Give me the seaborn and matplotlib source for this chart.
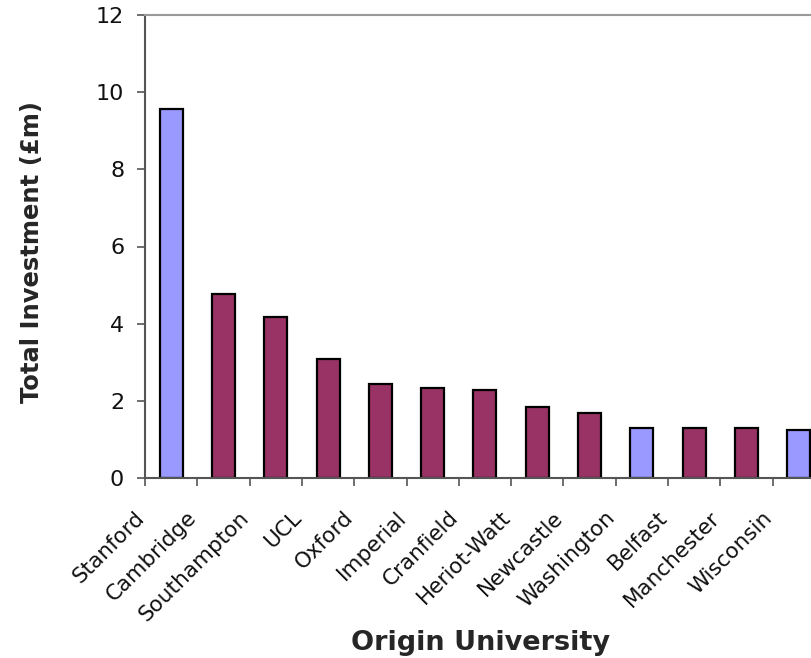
import matplotlib
matplotlib.use("Agg")
import matplotlib.pyplot as plt
import matplotlib.transforms as mtransforms
import seaborn as sns
import pandas as pd
from matplotlib.ticker import FixedLocator

universities = ["Stanford", "Cambridge", "Southampton", "UCL", "Oxford", "Imperial",
                "Cranfield", "Heriot-Watt", "Newcastle", "Washington", "Belfast",
                "Manchester", "Wisconsin"]
investment = [9.57, 4.78, 4.18, 3.09, 2.44, 2.33, 2.28, 1.84, 1.68, 1.29, 1.29, 1.29, 1.24]
region = ["US", "UK", "UK", "UK", "UK", "UK", "UK", "UK", "UK", "US", "UK", "UK", "US"]
region_colors = {"US": "#9999FF", "UK": "#993366"}
y_ticks = [0, 2, 4, 6, 8, 10, 12]

sns.set_style("white")
plt.rcParams["font.family"] = ["DejaVu Sans"]

df = pd.DataFrame({"University": universities, "Investment": investment, "Region": region})

fig = plt.figure(figsize=(8.11, 6.58), dpi=100)
n = len(universities)
left = 145 / 811
bottom = 1 - 478 / 658
top = 1 - 15 / 658
width = n * 52.3 / 811
ax = fig.add_axes([left, bottom, width, top - bottom])

sns.barplot(data=df, x="University", y="Investment", hue="Region", palette=region_colors,
            dodge=False, legend=False, width=0.44, saturation=1, edgecolor="black",
            linewidth=1.6, ax=ax)

ax.set_xlim(-0.5, n - 0.5)
ax.set_ylim(0, 12)
ax.set_yticks(y_ticks)
ax.set_yticklabels([str(t) for t in y_ticks], fontsize=16, color="#111111")
ax.tick_params(axis="y", direction="out", length=6, width=1.2, color="#555555", pad=9, left=True)

ax.set_xticks(range(n))
ax.set_xticklabels(universities, rotation=45, ha="right", rotation_mode="anchor",
                   fontsize=15.5, color="#111111")
ax.tick_params(axis="x", which="major", length=0, pad=14)
shift = mtransforms.ScaledTranslation(-37 / 100, -10 / 100, fig.dpi_scale_trans)
for lab in ax.get_xticklabels():
    lab.set_transform(lab.get_transform() + shift)
ax.xaxis.set_minor_locator(FixedLocator([i - 0.5 for i in range(n + 1)]))
ax.tick_params(axis="x", which="minor", direction="out", length=6, width=1.2,
               color="#555555", bottom=True)

for side in ["left", "bottom"]:
    ax.spines[side].set_color("#555555")
    ax.spines[side].set_linewidth(1.5)
ax.spines["top"].set_color("#999999")
ax.spines["top"].set_linewidth(1.5)
ax.spines["right"].set_visible(False)

ax.set_ylabel("")
ax.set_xlabel("")
fig.text(32 / 811, 1 - 252 / 658, "Total Investment (£m)", fontsize=17.5, fontweight="bold",
         rotation=90, ha="center", va="center")
fig.text(480 / 811, 1 - 643 / 658, "Origin University", fontsize=19.5, fontweight="bold",
         ha="center", va="center")

fig.savefig("out.png", dpi=100)
